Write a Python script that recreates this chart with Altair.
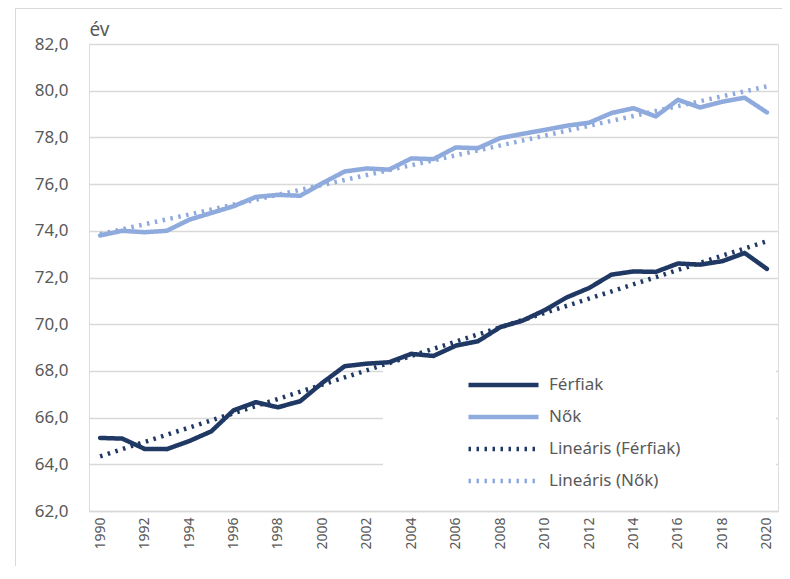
import altair as alt
import pandas as pd

years = list(range(1990, 2021))
ferfiak = [65.13, 65.10, 64.66, 64.65, 64.99, 65.41, 66.31, 66.66, 66.44, 66.70,
           67.49, 68.20, 68.31, 68.37, 68.73, 68.64, 69.08, 69.27, 69.87, 70.15,
           70.60, 71.15, 71.55, 72.12, 72.26, 72.24, 72.60, 72.55, 72.70, 73.05, 72.37]
nok = [73.80, 74.00, 73.94, 74.00, 74.47, 74.76, 75.05, 75.45, 75.54, 75.50,
       76.04, 76.54, 76.67, 76.62, 77.10, 77.07, 77.57, 77.54, 77.97, 78.15,
       78.32, 78.50, 78.63, 79.04, 79.25, 78.90, 79.61, 79.28, 79.53, 79.70, 79.07]

series_names = ["Férfiak", "Nők", "Lineáris (Férfiak)", "Lineáris (Nők)"]
colors = ["#1F3864", "#8FAADC", "#1F3864", "#8FAADC"]
dashes = [[1, 0], [1, 0], [2.5, 5.5], [2.5, 5.5]]
widths = [4.5, 4.5, 3, 3]
y_ticks = [62, 64, 66, 68, 70, 72, 74, 76, 78, 80, 82]
x_ticks = list(range(1990, 2021, 2))

df = pd.DataFrame({
    "ev": years * 2,
    "ertek": ferfiak + nok,
    "nem": ["Férfiak"] * len(years) + ["Nők"] * len(years),
})

FONT = "Noto Sans"
TXT = "#595959"
GRID = "#D9D9D9"

color = alt.Color("series:N", scale=alt.Scale(domain=series_names, range=colors),
                  legend=alt.Legend(title="\u2800" * 14, titleOrient="right", titleColor="white",
                                    titleFontSize=17, titlePadding=10, titleLimit=78,
                                    orient="none", legendX=294, legendY=323,
                                    symbolType="stroke", symbolSize=4900, clipHeight=20,
                                    rowPadding=12, labelFontSize=17, labelColor=TXT,
                                    labelFont=FONT, labelOffset=8, symbolOffset=75,
                                    padding=8, fillColor="white", strokeColor="white"))
dash = alt.StrokeDash("series:N", scale=alt.Scale(domain=series_names, range=dashes), legend=None)
width = alt.StrokeWidth("series:N", scale=alt.Scale(domain=series_names, range=widths), legend=None)

xenc = alt.X("ev:Q", scale=alt.Scale(domain=[1989.5, 2020.5], nice=False, zero=False),
             axis=alt.Axis(values=x_ticks, labelAngle=270, labelAlign="right", labelBaseline="middle",
                           labelFontSize=14, labelColor=TXT, labelFont=FONT, labelPadding=6,
                           grid=False, ticks=False, domainColor=GRID, domainWidth=1.3,
                           format="d", title=None, labelOverlap=False))
yenc = alt.Y("ertek:Q", scale=alt.Scale(domain=[62, 82], nice=False, zero=False),
             axis=alt.Axis(values=y_ticks, labelExpr="replace(format(datum.value, '.1f'), '.', ',')",
                           labelFontSize=17, labelColor=TXT, labelFont=FONT, labelPadding=21,
                           grid=True, gridColor=GRID, gridWidth=1.3, ticks=False, domain=False,
                           title="év", titleAngle=0, titleX=0, titleY=-9, titleAlign="left",
                           titleBaseline="alphabetic", titleFontSize=19, titleFontWeight="normal",
                           titleColor=TXT, titleFont=FONT))

base = alt.Chart(df)

lines = base.transform_calculate(series="datum.nem").mark_line(strokeCap="round", strokeJoin="round").encode(
    x=xenc, y=yenc, color=color, strokeDash=dash, strokeWidth=width, detail="series:N")

trend = base.transform_regression("ev", "ertek", groupby=["nem"], method="linear", extent=[1990, 2020]
).transform_calculate(series="'Lineáris (' + datum.nem + ')'").mark_line().encode(
    x="ev:Q", y="ertek:Q", color=color, strokeDash=dash, strokeWidth=width, detail="series:N")

# chart-area frame (left and top edges visible in the reference)
frame = pd.DataFrame({"k": [0]})
frame_left = alt.Chart(frame).mark_rule(color=GRID, strokeWidth=1).encode(
    x=alt.value(-73.5), y=alt.value(-36), y2=alt.value(540))
frame_top = alt.Chart(frame).mark_rule(color=GRID, strokeWidth=1).encode(
    x=alt.value(-74), x2=alt.value(720), y=alt.value(-35.5))

chart = alt.layer(trend, lines, frame_left, frame_top).properties(
    width=689, height=467,
    autosize=alt.AutoSizeParams(type="none"),
    padding={"left": 81, "top": 36, "right": 4, "bottom": 55},
).configure_view(stroke=None).configure(background="white")

chart.save("out.html", embed_options={"renderer": "svg", "actions": False})
